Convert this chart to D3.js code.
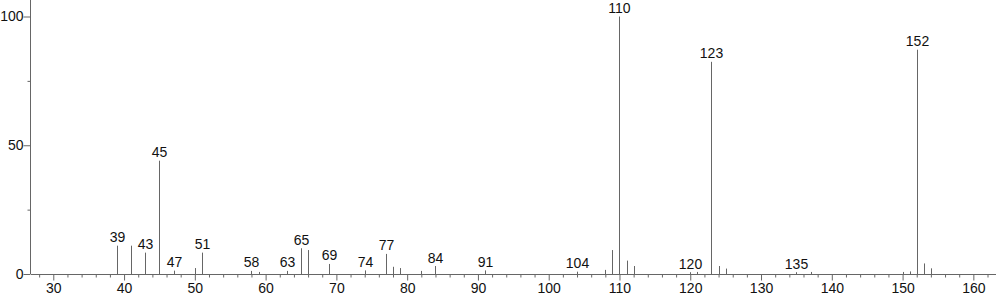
<!DOCTYPE html>
<html><head><meta charset="utf-8">
<script src="https://cdn.jsdelivr.net/npm/d3@7"></script>
<style>
html,body{margin:0;padding:0;background:#fff;}
svg{display:block;font-family:"Liberation Sans",Arial,sans-serif;}
</style></head>
<body><svg id="c" width="996" height="299"></svg>
<script>
const mz =        [39, 41, 43, 45, 47, 50, 51, 58, 59, 63, 65, 66, 69, 74, 77, 78, 79, 82, 84, 91, 104, 108, 109, 110, 111, 112, 120, 121, 123, 124, 125, 135, 137, 150, 151, 152, 153, 154];
const intensity = [11, 11, 8.3, 44, 1.3, 2.3, 8.3, 1.2, 0.8, 1.2, 10, 9.3, 3.9, 1.4, 7.8, 2.8, 2.3, 1.2, 3.1, 1.4, 0.9, 1.6, 9.3, 100, 5.2, 3.1, 0.7, 0.8, 82.4, 3.1, 2.1, 0.7, 0.8, 0.8, 1.0, 87.1, 4.1, 2.2];
const labeled = [39, 43, 45, 47, 51, 58, 63, 65, 69, 74, 77, 84, 91, 104, 110, 120, 123, 135, 152];
const xMajorTicks = [30, 40, 50, 60, 70, 80, 90, 100, 110, 120, 130, 140, 150, 160];
const yMajorTicks = [0, 50, 100];

const svg = d3.select("#c");
const x = d3.scaleLinear().domain([26.85, 163.2]).range([31, 996]);
const y = d3.scaleLinear().domain([0, 100]).range([274, 16.5]);
const col = "#666666";
const font = "Liberation Sans, Arial, sans-serif";

// minor x ticks
const xMinor = d3.range(28, 164, 2).filter(v => v % 10 !== 0);
const gxm = svg.append("g").attr("transform","translate(0,274.5)")
  .call(d3.axisBottom(x).tickValues(xMinor).tickSize(3).tickFormat(""));
gxm.select(".domain").remove();
const gx = svg.append("g").attr("transform","translate(0,274.5)")
  .call(d3.axisBottom(x).tickValues(xMajorTicks).tickSize(6).tickPadding(3).tickFormat(d3.format("d")));
gx.select(".domain").attr("d", `M${x.range()[0]},0H${x.range()[1]}`);
gx.selectAll("text").attr("font-size", 14).attr("fill", "#111").attr("font-family", font);

// y axis
const gym = svg.append("g").attr("transform","translate(30.5,0)")
  .call(d3.axisLeft(y).tickValues([25, 75]).tickSize(3).tickFormat(""));
gym.select(".domain").remove();
const gy = svg.append("g").attr("transform","translate(30.5,0)")
  .call(d3.axisLeft(y).tickValues(yMajorTicks).tickSize(7).tickPadding(0).tickFormat(d3.format("d")));
gy.select(".domain").attr("d", `M0,${y(0)}V0`);
gy.selectAll("text").attr("font-size", 14).attr("fill", "#111").attr("font-family", font);
svg.selectAll(".tick line, .domain").attr("stroke", col);

const peaks = mz.map((m, i) => ({m, v: intensity[i]}));
svg.append("g").selectAll("line").data(peaks).join("line")
  .attr("x1", d => Math.round(x(d.m)) + 0.5).attr("x2", d => Math.round(x(d.m)) + 0.5)
  .attr("y1", y(0)).attr("y2", d => y(d.v))
  .attr("stroke", col).attr("stroke-width", 1);

svg.append("g").selectAll("text").data(peaks.filter(d => labeled.includes(d.m))).join("text")
  .attr("x", d => Math.round(x(d.m)) + 0.5).attr("y", d => y(d.v) - 3.5)
  .attr("text-anchor", "middle").attr("font-size", 14).attr("fill", "#111")
  .attr("font-family", font)
  .text(d => d.m);
</script></body></html>
